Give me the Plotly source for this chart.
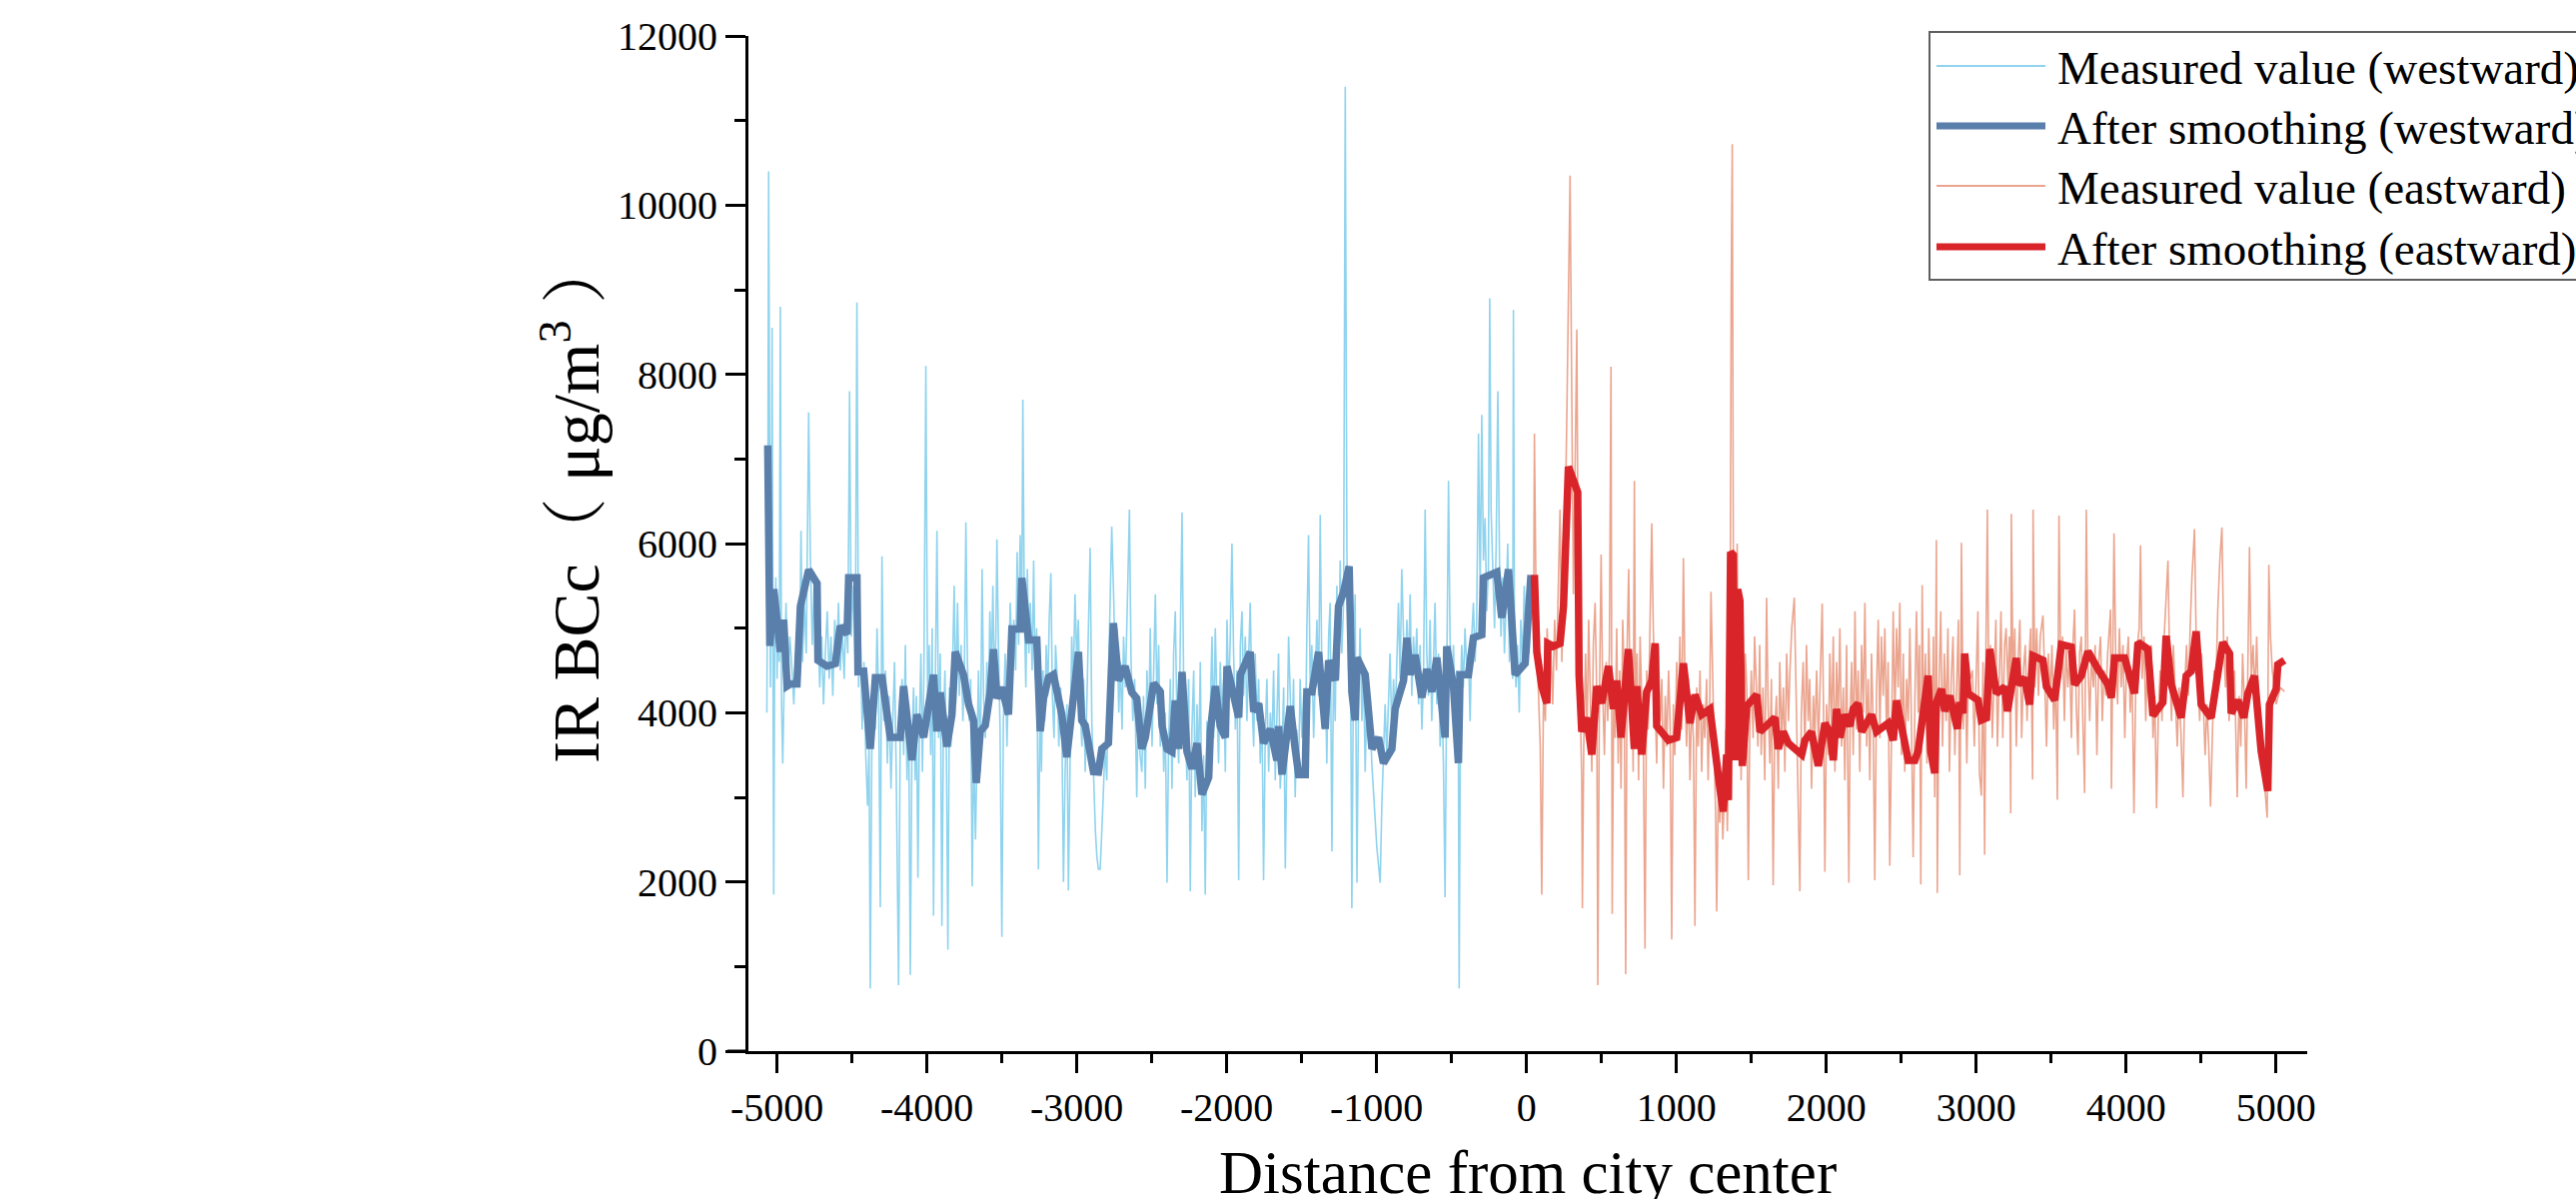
import plotly.graph_objects as go

# ---------------- data ----------------
WEST_MEASURED_X = [
    -5068, -5062, -5056, -5050, -5044, -5038, -5033, -5027, -5022, -5016,
    -5008, -5000, -4992, -4985, -4978, -4970, -4962, -4950, -4940, -4928,
    -4915, -4900, -4888, -4875, -4862, -4848, -4840, -4830, -4818, -4805,
    -4789, -4778, -4765, -4752, -4740, -4728, -4715, -4702, -4690, -4678,
    -4665, -4652, -4640, -4628, -4615, -4602, -4590, -4578, -4565, -4552,
    -4540, -4528, -4516, -4505, -4490, -4478, -4467, -4456, -4444, -4432,
    -4420, -4408, -4396, -4386, -4378, -4368, -4355, -4344, -4333, -4322,
    -4311, -4300, -4288, -4276, -4264, -4252, -4240, -4228, -4216, -4205,
    -4189, -4178, -4166, -4155, -4144, -4133, -4122, -4111, -4100, -4089,
    -4078, -4070, -4060, -4050, -4040, -4030, -4020, -4007, -3995, -3985,
    -3975, -3965, -3956, -3945, -3933, -3922, -3911, -3900, -3890, -3880,
    -3870, -3860, -3850, -3840, -3828, -3818, -3808, -3796, -3784, -3772,
    -3760, -3750, -3740, -3730, -3718, -3708, -3698, -3688, -3676, -3666,
    -3656, -3644, -3632, -3622, -3610, -3600, -3590, -3580, -3570, -3560,
    -3550, -3540, -3533, -3522, -3512, -3500, -3490, -3478, -3466, -3456,
    -3444, -3432, -3420, -3408, -3398, -3388, -3378, -3368, -3360, -3350,
    -3340, -3330, -3320, -3310, -3298, -3288, -3278, -3268, -3256, -3246,
    -3236, -3226, -3214, -3204, -3194, -3184, -3173, -3163, -3152, -3142,
    -3130, -3120, -3108, -3100, -3089, -3078, -3066, -3056, -3044, -3034,
    -3024, -3012, -3000, -2990, -2978, -2966, -2955, -2944, -2932, -2920,
    -2911, -2900, -2888, -2876, -2866, -2856, -2844, -2834, -2824, -2812,
    -2800, -2790, -2778, -2767, -2756, -2744, -2732, -2720, -2710, -2698,
    -2688, -2676, -2664, -2649, -2638, -2626, -2614, -2600, -2590, -2578,
    -2566, -2555, -2543, -2532, -2520, -2510, -2498, -2487, -2476, -2465,
    -2454, -2443, -2432, -2420, -2410, -2398, -2388, -2376, -2365, -2354,
    -2343, -2332, -2320, -2310, -2298, -2288, -2276, -2265, -2254, -2243,
    -2232, -2220, -2210, -2198, -2188, -2176, -2165, -2154, -2143, -2132,
    -2120, -2110, -2098, -2087, -2076, -2065, -2054, -2043, -2032, -2020,
    -2009, -1998, -1987, -1976, -1965, -1954, -1942, -1931, -1920, -1909,
    -1898, -1887, -1876, -1865, -1854, -1843, -1832, -1820, -1810, -1798,
    -1787, -1776, -1765, -1754, -1743, -1732, -1720, -1709, -1698, -1687,
    -1676, -1665, -1654, -1643, -1631, -1620, -1609, -1598, -1587, -1576,
    -1565, -1554, -1543, -1532, -1520, -1510, -1498, -1487, -1476, -1465,
    -1454, -1443, -1432, -1420, -1410, -1398, -1387, -1376, -1365, -1354,
    -1343, -1332, -1320, -1310, -1298, -1287, -1276, -1265, -1254, -1243,
    -1232, -1220, -1209, -1198, -1187, -1176, -1165, -1154, -1143, -1131,
    -1120, -1110, -1098, -1087, -1076, -1065, -1054, -1043, -1032, -1020,
    -1010, -998, -987, -976, -965, -954, -943, -932, -920, -910,
    -898, -887, -876, -865, -854, -843, -832, -820, -810, -798,
    -787, -776, -765, -754, -743, -732, -720, -710, -698, -687,
    -676, -665, -654, -643, -632, -620, -610, -598, -587, -576,
    -565, -554, -543, -532, -520, -510, -498, -487, -476, -465,
    -454, -449, -440, -432, -421, -410, -398, -387, -376, -365,
    -354, -343, -332, -320, -309, -298, -287, -276, -265, -254,
    -245, -236, -224, -213, -202, -191, -180, -170, -158, -147,
    -136, -125, -114, -103, -92, -87, -80, -70, -60, -48,
    -38, -26, -15, -5, 5, 18, 30,
]
WEST_MEASURED_Y = [
    4000, 6000, 10400, 5200, 4300, 5800, 8550, 4500, 1850, 4800,
    5600, 4400, 5200, 4600, 8800, 4100, 3400, 4600, 5300, 4300,
    4900, 4500, 4100, 4700, 4300, 4900, 6150, 4600, 5300, 4700,
    7550, 5900, 4800, 5500, 4600, 5100, 4300, 4900, 4100, 4700,
    5200, 4400, 4900, 4200, 5100, 4600, 5300, 4500, 5000, 4400,
    5200, 4700, 7800, 4900, 5500, 4600, 8850, 4300, 4900, 3800,
    4600, 3500, 2900, 3600, 740, 3500, 4400, 3800, 5000, 4200,
    1700, 5850, 3900, 4500, 3400, 4200, 3100, 3900, 4600, 3300,
    780, 3800, 4400, 3500, 4800, 3200, 4100, 900, 3600, 4300,
    3200, 4200, 2050, 3900, 4700, 3300, 4500, 8100, 3900, 4800,
    3500, 5000, 1600, 4200, 6150, 3700, 4700, 1480, 3800, 4500,
    3500, 1200, 4300, 3600, 4700, 5500, 4100, 5300, 4200, 4800,
    3900, 4500, 6250, 4600, 3900, 4400, 1950, 3600, 2500, 3800,
    4500, 3300, 5700, 4200, 3700, 4600, 4000, 5200, 4400, 5500,
    4300, 4900, 6050, 4700, 3800, 1350, 3900, 4700, 3600, 4400,
    5300, 4600, 5100, 4500, 5900, 4800, 6100, 5000, 7700, 5200,
    4300, 5700, 4700, 5300, 4500, 5800, 4400, 5000, 2150, 4000,
    3300, 4500, 3900, 4800, 4200, 5100, 5650, 4200, 3700, 4800,
    4400, 3600, 4300, 3900, 2000, 3300, 4100, 1900, 3500, 4900,
    4300, 5400, 4600, 5100, 4100, 3600, 4400, 3300, 4200, 5400,
    5950, 3900, 3100, 2600, 2300, 2150, 2150, 2500, 3000, 3600,
    3200, 4300, 5200, 6200, 5500, 4600, 5000, 4000, 4600, 3800,
    4900, 4300, 5200, 6400, 4600, 3900, 4400, 3000, 4100, 3500,
    3300, 4200, 3100, 4500, 3800, 5000, 3600, 4700, 5400, 4100,
    4800, 3600, 4300, 3300, 4000, 1990, 3600, 4400, 3100, 4700,
    5200, 3900, 3400, 4800, 6370, 4500, 3700, 3200, 4400, 1890,
    3800, 4500, 3000, 4100, 3300, 4600, 2600, 3500, 1850, 3900,
    3200, 4200, 4900, 3700, 5000, 4100, 3400, 4600, 3900, 4400,
    3300, 5100, 4200, 4900, 6000, 4700, 3800, 4500, 2020, 4800,
    5200, 4200, 4900, 3900, 4600, 5300, 4200, 3600, 4700, 3900,
    4400, 3400, 4100, 2020, 3700, 4400, 3300, 4000, 3600, 4500,
    3200, 3900, 4700, 3100, 3500, 4300, 2160, 3600, 4900, 4200,
    3600, 4400, 3000, 3800, 3300, 4400, 3700, 4200, 3400, 5000,
    6100, 4300, 4800, 3700, 4500, 5100, 4200, 6340, 4400, 3800,
    4500, 3400, 4900, 5300, 2360, 4600, 3900, 5500, 4400, 5800,
    4700, 5300, 11400, 5900, 4500, 5400, 1690, 4600, 5400, 1990,
    4200, 5000, 3900, 4500, 3300, 4200, 3700, 4000, 3400, 3000,
    2700, 2400, 2200, 1990, 2900, 3600, 4100, 3500, 4300, 4700,
    3700, 4400, 3900, 4800, 5300, 4400, 5700, 4900, 4300, 5100,
    4500, 5400, 4200, 4900, 4500, 5000, 4100, 4800, 3800, 4400,
    6400, 4700, 4200, 5100, 3900, 4600, 5300, 4100, 4700, 3600,
    4300, 3400, 1820, 4400, 6740, 4900, 4300, 4800, 3900, 4500,
    3500, 740, 4200, 4800, 4300, 5000, 4500, 4700, 3900, 4900,
    5300, 4600, 5100, 7300, 5400, 7520, 5800, 6300, 5200, 5700,
    8900, 6400, 5600, 5000, 6000, 7800, 5800, 4900, 5600, 4700,
    5300, 6000, 4600, 5100, 4400, 8760, 5000, 4300, 4800, 4000,
    5100, 4600, 5500, 4900, 5300, 4700, 5600,
]

WEST_SMOOTH_X = [
    -5062, -5048, -5022, -4978, -4956, -4933, -4911, -4867, -4844, -4789,
    -4733, -4727, -4667, -4611, -4578, -4533, -4522, -4467, -4460, -4422,
    -4378, -4344, -4300, -4244, -4178, -4156, -4100, -4067, -4022, -3956,
    -3933, -3911, -3867, -3833, -3811, -3756, -3722, -3689, -3671, -3644,
    -3611, -3578, -3556, -3533, -3500, -3456, -3433, -3378, -3367, -3322,
    -3267, -3244, -3222, -3189, -3156, -3100, -3067, -2989, -2967, -2944,
    -2889, -2856, -2833, -2789, -2756, -2722, -2678, -2633, -2600, -2567,
    -2543, -2487, -2443, -2431, -2398, -2365, -2343, -2320, -2298, -2265,
    -2231, -2198, -2165, -2120, -2109, -2076, -2043, -2009, -1998, -1920,
    -1909, -1843, -1820, -1787, -1754, -1709, -1665, -1654, -1631, -1576,
    -1543, -1520, -1476, -1465, -1431, -1387, -1343, -1320, -1276, -1254,
    -1220, -1183, -1165, -1143, -1131, -1076, -1031, -987, -954, -898,
    -876, -820, -798, -776, -743, -698, -665, -631, -598, -565,
    -543, -532, -487, -454, -443, -387, -354, -298, -287, -198,
    -165, -143, -120, -98, -76, -9, 30,
]
WEST_SMOOTH_Y = [
    7160, 4790, 5460, 4720, 5100, 4315, 4340, 4340, 5260, 5690,
    5530, 4618, 4550, 4580, 5025, 4930, 5595, 5595, 4485, 4490,
    3573, 4415, 4415, 3710, 3710, 4315, 3440, 3980, 3710, 4450,
    3780, 4240, 3600, 3980, 4720, 4450, 4100, 3910, 3170, 3780,
    3850, 4240, 4750, 4170, 4300, 3980, 4990, 4990, 5595, 4860,
    4860, 3780, 4170, 4415, 4450, 3980, 3475, 4720, 3910, 3850,
    3305, 3300, 3573, 3640, 5060, 4380, 4550, 4240, 4170, 3573,
    3707, 4348, 4247, 3842, 3573, 3539, 4146, 3573, 4483, 3539,
    3337, 3640, 3034, 3236, 3775, 4314, 3842, 3707, 4550, 3943,
    4449, 4719, 4011, 4112, 3640, 3809, 3438, 3842, 3270, 4078,
    3573, 3270, 3270, 4247, 4247, 4719, 3809, 4618, 4381, 5258,
    5426, 5730, 4247, 3910, 4651, 4449, 3573, 3707, 3404, 3573,
    4045, 4381, 4887, 4449, 4685, 4180, 4516, 4247, 4651, 4011,
    3707, 4786, 4314, 3404, 4449, 4449, 4887, 4921, 5595, 5662,
    5123, 5393, 5696, 5089, 4449, 4584, 5629,
]

EAST_MEASURED_X = [
    48, 53, 66, 80, 92, 102, 114, 126, 138, 150,
    162, 175, 188, 200, 212, 224, 236, 247, 258, 270,
    280, 291, 302, 313, 324, 336, 346, 358, 369, 373,
    382, 394, 404, 415, 426, 436, 446, 458, 469, 476,
    486, 498, 508, 520, 532, 542, 553, 564, 572, 582,
    592, 602, 612, 622, 631, 642, 652, 662, 672, 682,
    692, 702, 712, 720, 728, 738, 748, 758, 770, 780,
    791, 802, 812, 824, 836, 846, 858, 869, 880, 892,
    903, 914, 926, 936, 948, 958, 969, 980, 990, 1002,
    1012, 1024, 1036, 1047, 1058, 1068, 1080, 1091, 1102, 1114,
    1124, 1136, 1146, 1158, 1169, 1180, 1190, 1202, 1212, 1222,
    1231, 1242, 1252, 1262, 1269, 1280, 1290, 1300, 1310, 1320,
    1330, 1340, 1350, 1358, 1366, 1373, 1380, 1388, 1396, 1406,
    1414, 1424, 1432, 1440, 1450, 1460, 1470, 1480, 1490, 1500,
    1512, 1522, 1534, 1544, 1556, 1566, 1578, 1590, 1602, 1612,
    1624, 1634, 1646, 1656, 1668, 1680, 1690, 1702, 1714, 1724,
    1736, 1748, 1758, 1770, 1787, 1798, 1810, 1824, 1834, 1846,
    1858, 1868, 1880, 1890, 1902, 1914, 1924, 1936, 1948, 1960,
    1973, 1982, 1991, 2002, 2014, 2024, 2036, 2047, 2058, 2069,
    2080, 2091, 2102, 2114, 2124, 2136, 2151, 2160, 2170, 2180,
    2192, 2202, 2213, 2224, 2236, 2247, 2258, 2270, 2280, 2291,
    2302, 2313, 2324, 2336, 2347, 2358, 2368, 2380, 2391, 2402,
    2413, 2424, 2436, 2447, 2458, 2469, 2480, 2491, 2502, 2514,
    2524, 2536, 2547, 2558, 2570, 2580, 2592, 2602, 2614, 2622,
    2631, 2640, 2650, 2662, 2672, 2684, 2694, 2705, 2715, 2724,
    2735, 2741, 2752, 2764, 2776, 2788, 2800, 2812, 2822, 2834,
    2846, 2858, 2870, 2882, 2891, 2902, 2914, 2926, 2938, 2950,
    2962, 2975, 2988, 3000, 3012, 3022, 3035, 3046, 3057, 3066,
    3075, 3086, 3096, 3108, 3120, 3132, 3142, 3154, 3166, 3178,
    3190, 3200, 3212, 3222, 3231, 3235, 3246, 3258, 3268, 3280,
    3292, 3304, 3316, 3328, 3340, 3352, 3364, 3377, 3380, 3392,
    3404, 3416, 3428, 3446, 3458, 3470, 3482, 3494, 3506, 3518,
    3530, 3542, 3553, 3565, 3577, 3589, 3600, 3612, 3624, 3636,
    3646, 3657, 3668, 3680, 3690, 3702, 3712, 3724, 3735, 3746,
    3758, 3770, 3782, 3794, 3806, 3818, 3830, 3842, 3854, 3866,
    3878, 3897, 3903, 3920, 3932, 3944, 3956, 3968, 3980, 3992,
    4004, 4016, 4028, 4040, 4053, 4064, 4076, 4088, 4097, 4108,
    4120, 4132, 4144, 4156, 4168, 4180, 4192, 4204, 4216, 4228,
    4240, 4252, 4266, 4280, 4292, 4304, 4316, 4330, 4342, 4354,
    4366, 4380, 4392, 4404, 4416, 4428, 4440, 4457, 4468, 4480,
    4492, 4504, 4516, 4528, 4540, 4552, 4564, 4576, 4588, 4600,
    4612, 4626, 4640, 4652, 4664, 4676, 4688, 4700, 4712, 4724,
    4742, 4754, 4766, 4778, 4790, 4802, 4814, 4824, 4836, 4848,
    4860, 4872, 4884, 4896, 4908, 4920, 4932, 4942, 4953, 4964,
    4976, 4990, 5002, 5030, 5057,
]
EAST_MEASURED_Y = [
    5200, 7300, 5000, 4200, 3600, 1850, 4300, 3900, 5000, 4400,
    4800, 4100, 5100, 4500, 5600, 6400, 4600, 5300, 6200, 7600,
    9300, 10350, 7800, 5400, 6800, 8530, 5200, 4000, 3200, 1690,
    3600, 4700, 3700, 5100, 4300, 3300, 4800, 5300, 4200, 780,
    4000, 5870, 4300, 3500, 4600, 3900, 4700, 8090, 1620, 4200,
    3700, 5000, 3400, 4500, 3100, 5100, 4400, 910, 4800, 5700,
    3900, 4500, 3300, 6740, 3800, 4700, 3200, 4900, 4100, 3600,
    1210, 4500, 3800, 5200, 6240, 5000, 4200, 3400, 4800, 3900,
    4400, 3100, 4200, 3600, 4500, 3900, 1320, 4100, 3500, 4600,
    4000, 4900, 3800, 5830, 4300, 3600, 4400, 3200, 4100, 3700,
    1480, 4300, 3600, 4500, 3300, 4100, 3700, 4400, 3200, 4000,
    5430, 4200, 3600, 2800, 1650, 3100, 2700, 3300, 2500, 3000,
    3800, 2600, 3500, 4500, 9000, 10720, 5900, 3600, 4800, 6000,
    3900, 5400, 3200, 4100, 3500, 4700, 4300, 2020, 3800, 4500,
    3700, 4900, 4300, 3600, 4800, 3500, 4300, 3200, 5360, 4100,
    3400, 4400, 1960, 3800, 4200, 3100, 4600, 3700, 4300, 3300,
    4700, 3900, 4500, 5000, 5360, 4200, 3300, 1890, 4000, 4600,
    3500, 4800, 3900, 4400, 3100, 4200, 3700, 4500, 3600, 4300,
    5290, 4000, 2120, 4100, 3500, 4700, 3800, 4900, 3300, 4600,
    3900, 5000, 3600, 4300, 3200, 4800, 1990, 4000, 4600, 3500,
    5200, 3800, 4500, 3300, 4800, 4000, 5300, 3600, 4400, 3200,
    4700, 3900, 2020, 4300, 5100, 3700, 4900, 4200, 5000, 3800,
    4600, 2190, 4100, 5200, 3900, 5000, 4300, 5300, 3500, 4700,
    3300, 4400, 3900, 5000, 3700, 2290, 4200, 5200, 4000, 4800,
    1970, 5510, 3900, 4700, 3400, 5000, 4200, 3600, 4900, 3000,
    6040, 1870, 4300, 5200, 3600, 4700, 3900, 5000, 3300, 4400,
    4900, 3500, 4300, 5100, 2080, 6010, 3800, 4700, 3400, 4600,
    4400, 4500, 3600, 4500, 5200, 3300, 3020, 4600, 2320, 4800,
    6400, 3900, 4800, 3700, 4400, 5100, 3600, 4600, 5200, 3700,
    4800, 5000, 4300, 4900, 2810, 6350, 4400, 5000, 3600, 4600,
    5100, 3700, 4500, 4800, 3900, 4600, 5000, 3210, 6400, 4300,
    5000, 4200, 4900, 5150, 4300, 3600, 4700, 4200, 4800, 3800,
    4500, 2970, 6330, 4400, 4900, 3900, 4800, 4300, 4700, 3700,
    4800, 5220, 4100, 3500, 4700, 4900, 3900, 3050, 6400, 4600,
    3900, 4700, 4300, 4800, 3500, 4600, 4900, 3900, 4500, 4200,
    4700, 5220, 3100, 6120, 4600, 4100, 5000, 4300, 4800, 3700,
    4600, 4900, 4000, 4500, 2810, 4200, 4800, 5000, 5980, 4400,
    4900, 3900, 4700, 4200, 4800, 3700, 4200, 2870, 4000, 4500,
    3900, 4800, 5300, 5800, 4500, 3900, 4800, 4200, 3600, 4300,
    3800, 3000, 4300, 4800, 4200, 5000, 5600, 6170, 4900, 4300,
    3900, 4700, 4000, 3500, 4100, 3600, 2890, 3700, 4500, 4300,
    5200, 5800, 6190, 4800, 4300, 4900, 3900, 4600, 4000, 4500,
    3000, 4200, 3600, 4700, 4100, 3100, 4900, 5960, 4400, 4800,
    4200, 4900, 4100, 3800, 3600, 3300, 3000, 2760, 5750, 4900,
    4500, 4300, 4100, 4300, 4250,
]

EAST_SMOOTH_X = [
    53, 69, 102, 136, 142, 180, 224, 247, 280, 313,
    342, 351, 369, 402, 436, 469, 502, 547, 580, 602,
    631, 680, 720, 736, 769, 802, 836, 858, 869, 947,
    1002, 1047, 1091, 1124, 1169, 1224, 1258, 1291, 1313, 1336,
    1347, 1362, 1380, 1391, 1409, 1424, 1440, 1469, 1536, 1558,
    1658, 1680, 1713, 1747, 1791, 1836, 1858, 1902, 1947, 1991,
    2024, 2047, 2069, 2091, 2124, 2158, 2180, 2213, 2236, 2302,
    2336, 2413, 2447, 2469, 2502, 2547, 2591, 2613, 2680, 2697,
    2724, 2735, 2769, 2791, 2824, 2875, 2891, 2913, 2924, 2946,
    3013, 3035, 3069, 3091, 3135, 3191, 3209, 3246, 3268, 3280,
    3324, 3357, 3380, 3446, 3469, 3524, 3569, 3635, 3657, 3702,
    3746, 3813, 3880, 3902, 3924, 3991, 4057, 4080, 4146, 4180,
    4246, 4268, 4302, 4368, 4402, 4435, 4468, 4502, 4568, 4624,
    4646, 4691, 4702, 4746, 4786, 4813, 4857, 4902, 4946, 4957,
    5002, 5013, 5057,
]
EAST_SMOOTH_Y = [
    5629, 4719, 4314, 4112, 4820, 4786, 4820, 5258, 6909, 6707,
    6606, 4449, 3775, 3943, 3505, 4314, 4112, 4550, 4045, 4381,
    3707, 4752, 3573, 4314, 3505, 4247, 4381, 4820, 3842, 3674,
    3707, 4584, 3876, 4213, 3977, 4045, 3505, 3101, 2832, 3505,
    2966, 5898, 5864, 3438, 5460, 5325, 3371, 4078, 4213, 3775,
    3943, 3573, 3775, 3640, 3573, 3505, 3674, 3775, 3371, 3876,
    3775, 3438, 4045, 3707, 3977, 3842, 4045, 4112, 3775, 3977,
    3775, 3876, 3674, 4146, 3842, 3438, 3438, 3547, 4438, 3547,
    3284, 4123, 4281, 4018, 4202, 3809, 4123, 3992, 4700, 4228,
    4149, 3914, 3940, 4752, 4228, 4307, 4018, 4490, 4647, 4333,
    4412, 4097, 4674, 4621, 4307, 4149, 4805, 4778, 4333, 4438,
    4726, 4516, 4333, 4176, 4647, 4647, 4228, 4831, 4752, 3966,
    4123, 4910, 4333, 3940, 4438, 4490, 4962, 4097, 3940, 4595,
    4831, 4700, 3992, 4149, 3940, 4228, 4438, 3547, 3075, 4097,
    4281, 4569, 4621,
]

X_TICK_VALUES = [-5000, -4000, -3000, -2000, -1000, 0, 1000, 2000, 3000, 4000, 5000]
X_TICK_LABELS = ["-5000", "-4000", "-3000", "-2000", "-1000", "0",
                 "1000", "2000", "3000", "4000", "5000"]
X_MINOR_TICKS = [-4500, -3500, -2500, -1500, -500, 500, 1500, 2500, 3500, 4500]
Y_TICK_VALUES = [0, 2000, 4000, 6000, 8000, 10000, 12000]
Y_TICK_LABELS = ["0", "2000", "4000", "6000", "8000", "10000", "12000"]
Y_MINOR_TICKS = [1000, 3000, 5000, 7000, 9000, 11000]

SERIES_NAMES = ["Measured value (westward)", "After smoothing (westward)",
                "Measured value (eastward)", "After smoothing (eastward)"]
SERIES_COLORS = ["#8fd3ee", "#5a7fab", "#eba58f", "#d9242a"]
SERIES_WIDTHS = [1.6, 7.5, 1.6, 7.5]
LEGEND_WIDTHS = [2.2, 7, 2.2, 7]

X_TITLE = "Distance from city center"
Y_TITLE = "IR BCc（ μg/m<sup>3</sup> ）"

assert len(WEST_MEASURED_X) == len(WEST_MEASURED_Y)
assert len(WEST_SMOOTH_X) == len(WEST_SMOOTH_Y)
assert len(EAST_MEASURED_X) == len(EAST_MEASURED_Y)
assert len(EAST_SMOOTH_X) == len(EAST_SMOOTH_Y)

# ---------------- figure ----------------
SERIF = "Liberation Serif, Times New Roman, Noto Serif CJK SC, Noto Sans CJK SC, serif"

W, H = 2578, 1200
ML, MR, MT, MB = 749, 269, 36, 148
plot_w = W - ML - MR
plot_h = H - MT - MB


def px_x(px):
    """page pixel x -> paper fraction"""
    return (px - ML) / plot_w


def px_y(py):
    """page pixel y -> paper fraction"""
    return (H - MB - py) / plot_h


fig = go.Figure()
series = [
    (WEST_MEASURED_X, WEST_MEASURED_Y, 0),
    (EAST_MEASURED_X, EAST_MEASURED_Y, 2),
    (WEST_SMOOTH_X, WEST_SMOOTH_Y, 1),
    (EAST_SMOOTH_X, EAST_SMOOTH_Y, 3),
]
for xs, ys, i in series:
    fig.add_trace(go.Scatter(x=xs, y=ys, mode="lines", name=SERIES_NAMES[i],
                             showlegend=False,
                             line=dict(color=SERIES_COLORS[i], width=SERIES_WIDTHS[i])))

# legend box, drawn as shapes + text (matches the original's proportions)
LEG_LEFT, LEG_TOP, LEG_BOTTOM = 1931, 32, 280
LEG_ROWS = [66, 126, 186, 247]
LEG_LINE_X0, LEG_LINE_X1, LEG_TEXT_X = 1938, 2047, 2057

shapes = [
    dict(type="line", xref="paper", yref="y", x0=px_x(728), x1=0, y0=0, y1=0,
         line=dict(color="black", width=3), layer="above"),
    dict(type="rect", xref="paper", yref="paper",
         x0=px_x(LEG_LEFT), x1=px_x(W + 20), y0=px_y(LEG_BOTTOM), y1=px_y(LEG_TOP),
         line=dict(color="#5f5f5f", width=2), fillcolor="white", layer="above"),
]
annotations = []
for i, ry in enumerate(LEG_ROWS):
    shapes.append(dict(type="line", xref="paper", yref="paper",
                       x0=px_x(LEG_LINE_X0), x1=px_x(LEG_LINE_X1),
                       y0=px_y(ry), y1=px_y(ry), layer="above",
                       line=dict(color=SERIES_COLORS[i], width=LEGEND_WIDTHS[i])))
    annotations.append(dict(xref="paper", yref="paper", x=px_x(LEG_TEXT_X), y=px_y(ry + 2),
                            xanchor="left", yanchor="middle", showarrow=False,
                            text=SERIES_NAMES[i],
                            font=dict(family=SERIF, size=47, color="black")))

# axis titles (placed as in the original, x title partly below the page edge)
annotations.append(dict(xref="paper", yref="paper", x=px_x(572), y=px_y(501),
                        xanchor="center", yanchor="middle", showarrow=False,
                        textangle=-90, text=Y_TITLE,
                        font=dict(family=SERIF, size=66, color="black")))
annotations.append(dict(xref="paper", yref="paper", x=px_x(1529), y=px_y(1209),
                        xanchor="center", yanchor="bottom", showarrow=False,
                        text=X_TITLE,
                        font=dict(family=SERIF, size=61, color="black")))

fig.update_layout(
    width=W, height=H,
    margin=dict(l=ML, r=MR, t=MT, b=MB, pad=0, autoexpand=False),
    paper_bgcolor="white", plot_bgcolor="white",
    font=dict(family=SERIF, color="black"),
    showlegend=False,
    xaxis=dict(
        range=[-5191, 5209], showgrid=False, zeroline=False,
        showline=True, linewidth=3, linecolor="black",
        tickmode="array", tickvals=X_TICK_VALUES, ticktext=X_TICK_LABELS,
        ticks="outside", ticklen=19, tickwidth=3, tickcolor="black",
        tickfont=dict(family=SERIF, size=40, color="black"),
        minor=dict(tickmode="array", tickvals=X_MINOR_TICKS, ticks="outside",
                   ticklen=9, tickwidth=3, tickcolor="black", showgrid=False),
    ),
    yaxis=dict(
        range=[0, 12000], showgrid=False, zeroline=False,
        showline=True, linewidth=3, linecolor="black",
        tickmode="array", tickvals=Y_TICK_VALUES, ticktext=Y_TICK_LABELS,
        ticks="outside", ticklen=20, tickwidth=3, tickcolor="black",
        tickfont=dict(family=SERIF, size=40, color="black"),
        minor=dict(tickmode="array", tickvals=Y_MINOR_TICKS, ticks="outside",
                   ticklen=11, tickwidth=3, tickcolor="black", showgrid=False),
    ),
    shapes=shapes,
    annotations=annotations,
)

fig.write_html("out.html", config={"displayModeBar": False},
               post_script="document.body.style.margin='0px';")
